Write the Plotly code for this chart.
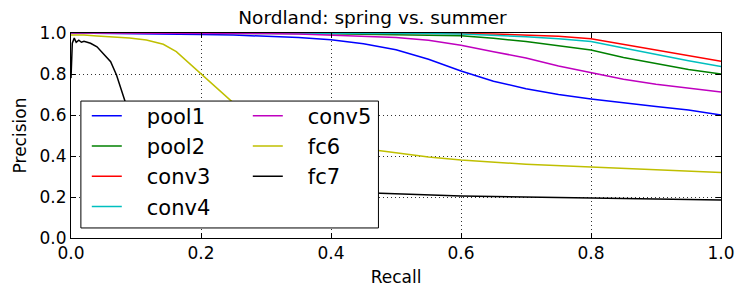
import plotly.graph_objects as go

recall = [0, 0.05, 0.1, 0.15, 0.2, 0.25, 0.3, 0.35, 0.4, 0.45, 0.5,
          0.55, 0.6, 0.65, 0.7, 0.75, 0.8, 0.85, 0.9, 0.95, 1.0]
pool1 = [1.0, 0.999, 0.998, 0.996, 0.993, 0.99, 0.985, 0.978, 0.967, 0.948, 0.918,
         0.872, 0.815, 0.765, 0.728, 0.70, 0.678, 0.658, 0.641, 0.624, 0.60]
pool2 = [1.0, 1.0, 1.0, 1.0, 1.0, 0.999, 0.998, 0.997, 0.996, 0.994, 0.992,
         0.99, 0.986, 0.974, 0.958, 0.938, 0.917, 0.881, 0.85, 0.822, 0.80]
conv3 = [1.0, 1.0, 1.0, 1.0, 1.0, 1.0, 0.999, 0.999, 0.999, 0.998, 0.998,
         0.998, 0.997, 0.995, 0.99, 0.984, 0.972, 0.945, 0.917, 0.89, 0.862]
conv4 = [1.0, 1.0, 1.0, 1.0, 1.0, 1.0, 0.999, 0.999, 0.999, 0.998, 0.998,
         0.997, 0.995, 0.99, 0.982, 0.972, 0.958, 0.927, 0.895, 0.865, 0.836]
conv5 = [1.0, 1.0, 1.0, 0.999, 0.999, 0.998, 0.997, 0.995, 0.99, 0.985, 0.978,
         0.965, 0.94, 0.909, 0.878, 0.839, 0.805, 0.774, 0.75, 0.73, 0.712]

recall_fc6 = [0, 0.02, 0.04, 0.065, 0.09, 0.116, 0.142, 0.162, 0.182, 0.198, 0.218,
              0.238, 0.26, 0.3, 0.35, 0.4, 0.476, 0.55, 0.6, 0.7, 0.8, 0.9, 1.0]
fc6 = [0.99, 0.99, 0.985, 0.98, 0.976, 0.966, 0.945, 0.909, 0.852, 0.803, 0.746,
       0.689, 0.63, 0.55, 0.485, 0.452, 0.426, 0.395, 0.38, 0.36, 0.346, 0.333, 0.32]

recall_fc7 = [0, 0.002, 0.005, 0.008, 0.012, 0.016, 0.02, 0.025, 0.03, 0.04, 0.05,
              0.061, 0.07, 0.081, 0.09, 0.1, 0.125, 0.15, 0.2, 0.3, 0.4, 0.476,
              0.6, 0.8, 1.0]
fc7 = [0.78, 0.95, 0.975, 0.955, 0.965, 0.955, 0.96, 0.955, 0.95, 0.933, 0.9,
       0.86, 0.795, 0.69, 0.6, 0.52, 0.42, 0.36, 0.3, 0.255, 0.23, 0.218,
       0.205, 0.195, 0.185]

names = ["pool1", "pool2", "conv3", "conv4", "conv5", "fc6", "fc7"]
colors = ["#0000ff", "#008000", "#ff0000", "#00bfbf", "#bf00bf", "#bfbf00", "#000000"]
xs = [recall, recall, recall, recall, recall, recall_fc6, recall_fc7]
ys = [pool1, pool2, conv3, conv4, conv5, fc6, fc7]
legends = ["legend", "legend", "legend", "legend", "legend2", "legend2", "legend2"]

FONT = "DejaVu Sans"
pad = "\u00a0\u00a0\u00a0"

fig = go.Figure()
for n, c, x, y, lg in zip(names, colors, xs, ys, legends):
    fig.add_trace(go.Scatter(x=x, y=y, mode="lines", name=pad + n,
                             line=dict(color=c, width=1.5), legend=lg))

axis_common = dict(
    range=[0, 1], tickvals=[0, 0.2, 0.4, 0.6, 0.8, 1.0], tickformat=".1f",
    showline=True, linecolor="black", linewidth=1, mirror="allticks",
    ticks="inside", ticklen=5, tickcolor="black",
    showgrid=True, gridcolor="#333333", griddash="1px,3px", gridwidth=1,
    zeroline=False, tickfont=dict(family=FONT, size=17, color="black"),
)

fig.update_layout(
    width=739, height=289,
    margin=dict(l=59, r=23, t=25, b=59),
    paper_bgcolor="white", plot_bgcolor="white",
    title=dict(text="Nordland: spring vs. summer", x=0.4932, xref="container",
               xanchor="center", y=0.99, yanchor="top", yref="container",
               pad=dict(t=0, b=0, l=0, r=0),
               font=dict(family=FONT, size=18.5, color="black")),
    xaxis=dict(axis_common, title=dict(text="Recall", standoff=8,
                                       font=dict(family=FONT, size=17, color="black"))),
    yaxis=dict(axis_common, title=dict(text="Precision", standoff=8,
                                       font=dict(family=FONT, size=17, color="black"))),
    legend=dict(x=0.0243, y=0.695, xanchor="left", yanchor="top",
                bgcolor="rgba(0,0,0,0)", borderwidth=0,
                font=dict(family=FONT, size=21, color="black")),
    legend2=dict(x=0.272, y=0.695, xanchor="left", yanchor="top",
                 bgcolor="rgba(0,0,0,0)", borderwidth=0,
                 font=dict(family=FONT, size=21, color="black")),
    showlegend=True,
    shapes=[dict(type="rect", xref="paper", yref="paper",
                 x0=0.0152, x1=0.473, y0=0.049, y1=0.668,
                 fillcolor="white", line=dict(color="black", width=1), layer="above")],
)

fig.write_html("out.html")
